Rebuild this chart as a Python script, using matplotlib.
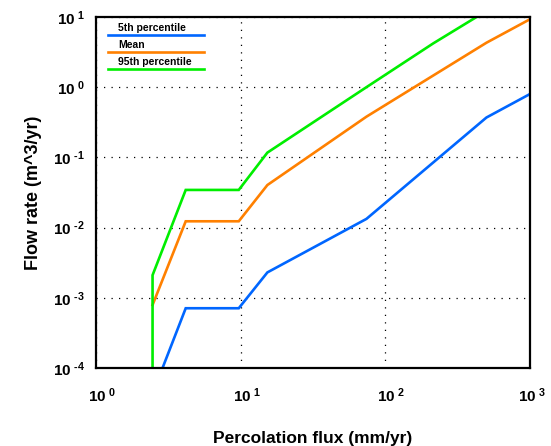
import math
import matplotlib
matplotlib.use('Agg')
import matplotlib.pyplot as plt
from matplotlib.ticker import FixedLocator, FuncFormatter, NullLocator
from matplotlib.transforms import ScaledTranslation

plt.rcParams['font.family'] = ['Liberation Sans', 'DejaVu Sans']
plt.rcParams['mathtext.fontset'] = 'custom'
plt.rcParams['mathtext.rm'] = 'Liberation Sans'
plt.rcParams['mathtext.bf'] = 'Liberation Sans:bold'

# Data
flux = [2.46, 2.46, 4.17, 9.7, 15.3, 74, 214, 500, 1000]
p5 = [None, 4.3e-5, 7.1e-4, 7.1e-4, 2.3e-3, 0.0133, None, 0.37, 0.8]
mean = [None, 7.9e-4, 0.0123, 0.0123, 0.0404, 0.38, None, 4.3, 9.3]
p95 = [1e-5, 2.1e-3, 0.0344, 0.0344, 0.117, 1.0, 4.2, 12.2, None]

labels = ['5th percentile', 'Mean', '95th percentile']
colors = ['#0066ff', '#ff8000', '#00ee00']

xticks = [1, 10, 100, 1000]
yticks = [1e-4, 1e-3, 1e-2, 1e-1, 1, 10]


def clean(xs, ys):
    pts = [(x, y) for x, y in zip(xs, ys) if y is not None]
    return [p[0] for p in pts], [p[1] for p in pts]


def pow_label(v, pos):
    e = int(round(math.log10(v)))
    s = str(e).replace('-', '\u2010')
    return r'$\mathbf{10^{\ %s}}$' % s


fig = plt.figure(figsize=(5.51, 4.46), dpi=100)
ax = fig.add_axes([96 / 551, 1 - 368 / 446, 434 / 551, 351 / 446])

for ys, c in zip([p5, mean, p95], colors):
    x, y = clean(flux, ys)
    ax.plot(x, y, color=c, lw=1.9, solid_joinstyle='miter')

ax.set_xscale('log')
ax.set_yscale('log')
ax.set_xlim(1, 1000)
ax.set_ylim(1e-4, 10)
ax.xaxis.set_major_locator(FixedLocator(xticks))
ax.yaxis.set_major_locator(FixedLocator(yticks))
ax.xaxis.set_minor_locator(NullLocator())
ax.yaxis.set_minor_locator(NullLocator())
ax.xaxis.set_major_formatter(FuncFormatter(pow_label))
ax.yaxis.set_major_formatter(FuncFormatter(pow_label))
ax.tick_params(length=0, labelsize=11)
ax.tick_params(axis='x', pad=13)
ax.tick_params(axis='y', pad=8)
ax.grid(True, color='black', lw=0.9, linestyle=(0, (1, 5)))
for s in ax.spines.values():
    s.set_linewidth(1.6)

# x tick labels sit with the "10" centred on the tick; the last one is pulled in
xlabels = ax.get_xticklabels()
for i, lbl in enumerate(xlabels):
    dx = 6 if i < len(xlabels) - 1 else 2
    lbl.set_transform(lbl.get_transform() + ScaledTranslation(dx / 100, 0, fig.dpi_scale_trans))

ax.set_xlabel('Percolation flux (mm/yr)', fontsize=12.5, fontweight='bold', labelpad=19)
ax.set_ylabel('Flow rate (m^3/yr)', fontsize=13, fontweight='bold', labelpad=8)

# legend: text above a short line sample
line_y = [0.949, 0.900, 0.852]
for lab, c, ly in zip(labels, colors, line_y):
    ax.plot([0.028, 0.249], [ly, ly], color=c, lw=1.9, transform=ax.transAxes)
    ax.text(0.051, ly + 0.006, lab, transform=ax.transAxes, fontsize=7.5,
            fontweight='bold', va='bottom', ha='left')

fig.savefig('out.png', dpi=100)
